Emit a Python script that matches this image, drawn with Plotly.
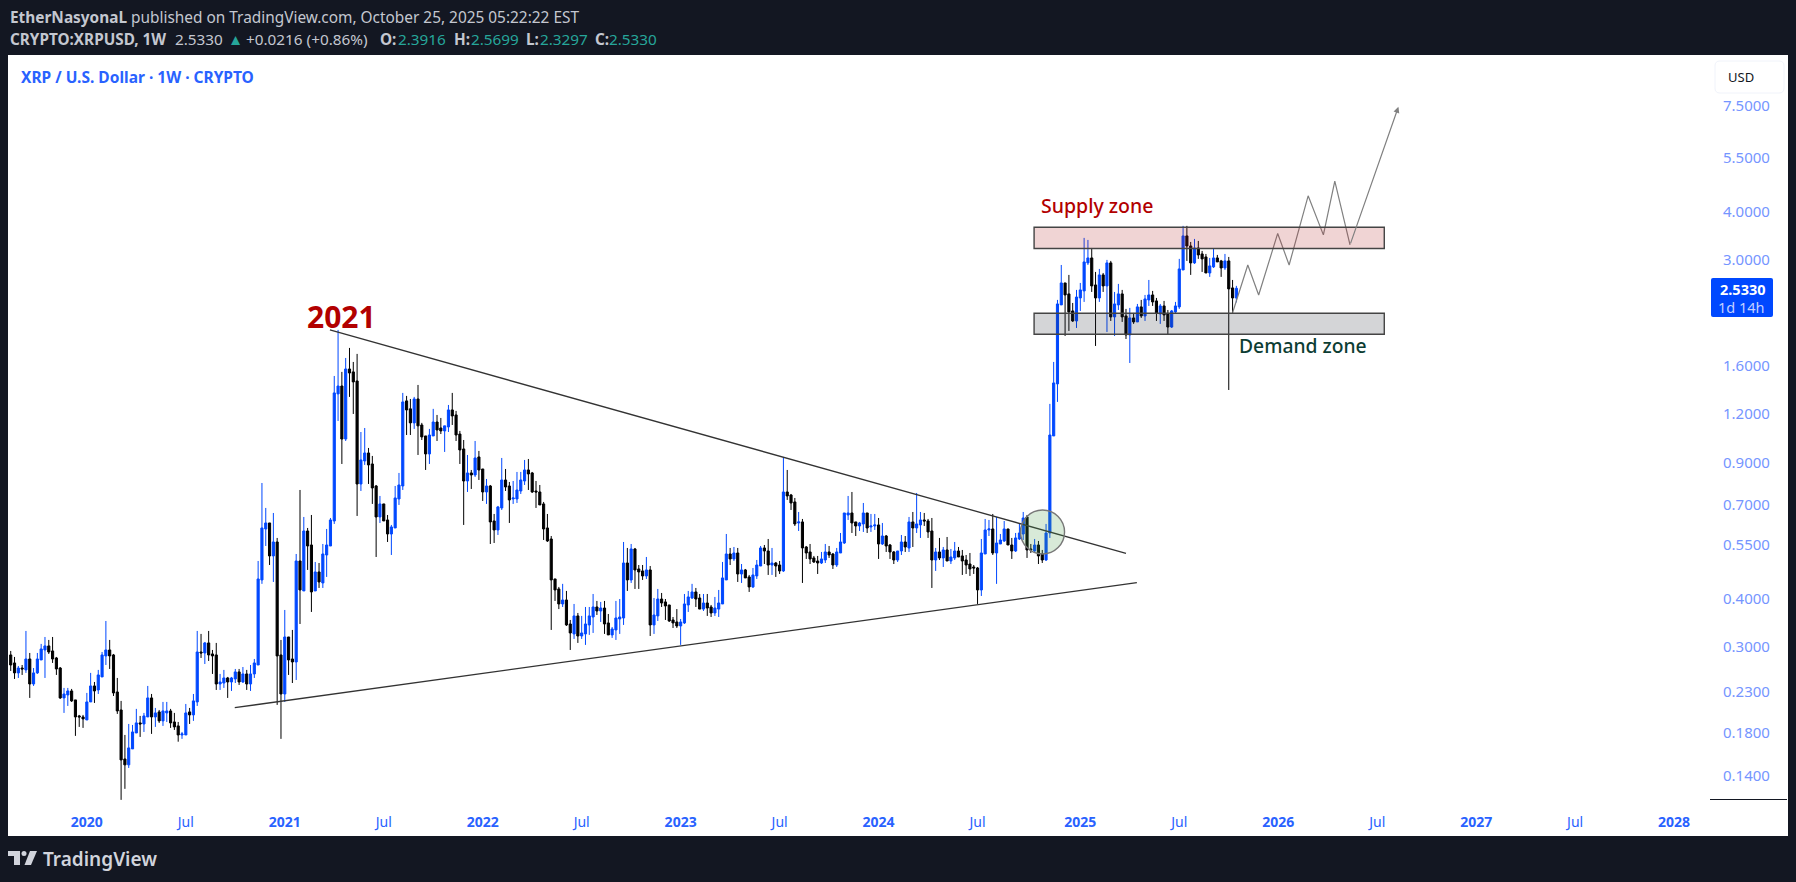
import math
import pandas as pd
import plotly.graph_objects as go

# weekly XRP/USD candles
opens = [.2864,.2731,.2574,.2650,.2620,.2796,.2410,.2574,.2780,.2950,.3022,.2933,.2813,.2650,.2218,.2258,.2312,.2192,.1993,.1981,
         .1946,.2166,.2382,.2326,.2513,.2847,.2950,.2864,.2298,.2065,.1543,.1490,.1638,.1801,.1912,.1900,.1981,.2218,.1981,.2041,
         .1935,.2029,.2053,.1923,.1878,.1780,.1780,.2041,.2005,.2166,.2915,.2898,.3076,.2881,.2864,.2410,.2424,.2498,.2439,.2483,
         .2589,.2439,.2558,.2410,.2558,.2698,.4473,.6057,.6277,.5159,.5606,.2864,.2271,.3187,.2796,.2747,.5007,.4190,.5985,.5507,
         .4190,.4691,.4394,.5189,.5474,.6352,1.352,1.417,1.034,1.568,1.541,1.460,.7914,.9075,.9517,.8914,.7821,.6505,.7029,.6390,
         .5879,.6093,.7239,.7821,1.297,1.237,1.138,1.312,1.124,1.053,.9461,1.053,1.144,1.104,1.085,1.111,1.229,1.193,1.065,.9746,
         .8057,.8451,.8350,.9293,.8653,.7547,.7821,.6352,.6021,.6863,.8105,.7821,.7239,.7239,.7592,.8057,.8602,.8451,.7592,.7547,
         .7029,.6093,.5707,.4500,.4240,.3878,.3971,.3443,.3245,.3612,.3206,.3245,.3423,.3589,.3809,.3720,.3786,.3464,.3226,.3323,
         .3547,.3568,.4948,.4473,.5378,.4775,.4719,.4581,.4747,.3423,.3612,.3994,.3925,.3855,.3526,.3484,.3403,.3464,.3855,.4018,
         .4165,.4018,.3762,.3901,.3809,.3676,.3762,.3878,.4473,.5220,.5068,.5251,.4635,.4747,.4554,.4291,.4581,.4860,.5410,.5314,
         .4889,.4948,.4889,.4719,.7547,.7413,.7112,.6277,.6315,.5442,.5283,.5098,.5007,.4948,.5037,.5283,.5220,.4889,.5251,.5573,
         .6582,.6661,.6315,.6166,.6240,.6661,.6130,.6166,.6203,.5540,.5809,.5507,.5283,.5037,.5314,.5606,.5410,.6315,.6093,.6203,
         .6390,.6352,.5985,.5037,.5283,.5098,.5346,.5007,.5098,.5314,.5159,.5037,.4918,.4832,.4803,.4215,.5220,.6021,.6057,.5251,
         .5540,.5640,.6057,.5507,.5314,.5707,.5879,.6505,.5378,.5314,.5507,.5220,.5037,.5914,1.053,1.435,2.295,2.615,2.450,2.214,
         2.086,2.392,2.494,2.946,3.034,2.584,2.392,2.743,2.569,2.946,2.137,2.295,2.450,2.149,1.920,2.124,2.074,2.268,2.149,2.364,
         2.435,2.350,2.175,2.281,2.175,2.012,2.201,2.268,2.825,3.459,3.258,2.946,3.219,3.107,3.052,2.775,2.877,3.034,2.981,2.859,
         2.981,2.539,2.3916]
highs = [.2933,.2830,.2682,.2698,.3303,.2898,.2650,.2898,.3058,.3187,.3131,.3187,.2830,.2666,.2354,.2354,.2340,.2192,.2005,.2005,
         .2285,.2574,.2439,.2620,.2915,.3505,.3131,.2881,.2498,.2179,.1780,.1900,.1889,.2078,.1993,.2029,.2382,.2271,.2090,.2065,
         .2166,.2166,.2078,.2029,.1923,.1812,.2140,.2090,.2271,.3303,.3245,.3094,.3303,.2950,.3076,.2558,.2620,.2513,.2513,.2635,
         .2635,.2666,.2620,.2698,.2796,.5007,.7961,.6863,.6277,.6661,.5742,.3131,.3742,.3187,.3323,.5220,.7637,.6505,.6093,.6582,
         .4978,.4948,.5540,.6057,.6466,1.504,1.978,1.541,1.674,1.777,1.635,1.715,1.078,1.104,.9804,.9349,.7867,.7370,.7029,.6582,
         .6203,.7821,.8451,1.360,1.336,1.312,1.328,1.426,1.138,1.053,1.098,1.237,1.193,1.172,1.118,1.266,1.360,1.222,1.085,1.028,
         .9404,.8602,1.022,.9631,.8653,.8154,.7867,.6622,.6945,.9238,.8653,.8009,.8057,.8501,.8501,.9129,.9183,.8501,.8057,.7867,
         .7112,.6622,.5809,.4500,.4291,.4370,.4190,.3526,.3878,.3676,.3612,.3809,.3809,.4115,.3948,.3925,.3948,.3654,.3382,.3948,
         .3994,.5606,.5410,.5540,.5410,.4889,.4889,.5128,.4860,.4018,.4240,.4140,.3994,.3855,.3589,.3762,.3547,.4115,.4190,.4370,
         .4265,.4115,.4115,.4115,.3855,.4043,.4215,.4978,.5879,.5410,.5442,.5410,.4918,.4775,.4608,.4803,.5037,.5474,.5507,.5707,
         .5410,.4978,.5007,.9293,.8602,.7458,.7283,.6701,.6428,.5474,.5540,.5159,.5159,.5283,.5540,.5474,.5251,.5410,.5914,.6661,
         .7370,.7547,.6315,.6315,.7069,.6661,.6622,.6622,.6466,.6277,.5844,.5540,.5314,.5314,.5844,.5809,.6505,.6701,.7502,.6701,
         .6661,.6428,.6466,.5410,.5742,.5442,.5775,.5378,.5606,.5442,.5346,.5189,.5251,.4889,.4832,.5707,.6428,.6390,.6622,.6505,
         .5879,.6352,.6057,.5742,.5914,.6240,.6701,.6582,.5540,.5707,.5640,.5346,.6240,1.274,1.635,2.364,2.910,2.615,2.743,2.322,
         2.509,2.615,3.418,3.377,3.219,2.792,2.842,2.775,2.999,2.981,2.479,2.600,2.509,2.241,2.254,2.188,2.308,2.364,2.435,2.662,
         2.494,2.392,2.308,2.350,2.227,2.227,2.336,3.017,3.671,3.671,3.337,3.397,3.357,3.163,3.107,3.034,3.201,3.089,2.999,3.107,
         3.052,2.662,2.5699]
lows = [.2604,.2483,.2498,.2543,.2574,.2218,.2382,.2558,.2780,.2498,.2881,.2731,.2543,.2205,.2029,.2115,.2166,.1770,.1867,.1856,
        .1946,.2166,.2153,.2271,.2513,.2698,.2635,.2244,.2017,.1210,.1292,.1463,.1638,.1801,.1759,.1812,.1981,.1791,.1867,.1912,
        .1878,.1923,.1856,.1834,.1710,.1739,.1780,.1900,.1935,.2115,.2813,.2714,.2763,.2558,.2326,.2326,.2354,.2218,.2312,.2424,
        .2396,.2424,.2326,.2312,.2498,.2698,.4370,.5474,.4889,.4420,.2128,.1739,.2166,.2543,.2424,.2468,.3443,.4190,.4747,.3698,
        .4190,.4265,.4265,.4554,.5474,.6240,1.151,.8914,1.022,1.328,1.200,.6544,.7592,.8862,.7914,.7029,.5128,.6277,.6352,.5606,
        .5189,.6093,.6987,.7637,1.059,1.059,1.098,.9404,1.028,.8602,.8914,1.053,1.022,1.065,.9574,1.078,1.124,1.022,.8914,.6203,
        .7547,.7683,.8252,.8105,.7154,.7029,.5540,.5573,.5844,.6781,.7592,.6277,.7029,.7069,.7458,.7867,.7637,.7502,.6863,.6987,
        .5673,.5606,.3323,.3948,.3762,.3809,.3403,.2950,.3150,.3076,.3150,.3040,.3226,.3264,.3632,.3484,.3245,.3226,.3169,.3131,
        .3245,.3423,.4190,.4394,.4240,.4240,.4473,.4500,.3206,.3245,.3505,.3809,.3526,.3484,.3362,.3362,.3040,.3443,.3698,.3994,
        .3809,.3762,.3720,.3612,.3589,.3612,.3589,.3878,.4473,.4889,.5007,.4420,.4394,.4527,.4165,.4265,.4500,.4860,.4918,.4608,
        .4608,.4554,.4635,.4691,.7197,.6781,.6166,.5985,.4394,.5068,.4918,.4948,.4635,.4918,.4948,.5098,.4775,.4832,.5251,.5540,
        .6390,.5914,.5809,.5985,.5950,.5914,.5950,.6021,.5068,.5507,.5283,.5068,.4918,.4978,.5189,.5283,.5283,.5442,.5914,.5742,
        .6166,.5742,.4265,.4719,.5037,.4832,.5007,.4918,.5037,.5128,.4608,.4635,.4581,.4635,.3878,.4067,.5220,.5809,.5189,.4370,
        .5540,.5606,.5507,.5068,.5283,.5673,.5673,.5098,.5251,.5283,.4918,.4948,.5007,.5742,1.053,1.289,2.295,1.908,1.966,2.074,
        2.001,2.214,2.336,2.910,2.479,1.798,2.336,2.479,1.954,2.086,1.908,2.227,2.074,1.874,1.625,2.050,2.074,2.124,2.086,2.281,
        2.281,2.086,2.050,2.086,1.920,2.001,2.175,2.241,2.825,2.981,2.743,2.928,3.017,2.792,2.775,2.711,2.859,2.963,2.711,2.825,
        1.384,2.188,2.3297]
closes = [.2698,.2574,.2650,.2635,.2796,.2410,.2574,.2796,.2968,.3022,.2915,.2796,.2635,.2218,.2271,.2312,.2179,.1981,.1981,.1958,
          .2166,.2382,.2312,.2543,.2864,.2950,.2847,.2285,.2053,.1534,.1490,.1648,.1812,.1912,.1900,.1993,.2218,.1981,.2029,.1935,
          .2053,.2053,.1912,.1867,.1780,.1791,.2029,.2005,.2179,.2915,.2898,.3076,.2864,.2847,.2410,.2439,.2498,.2439,.2498,.2589,
          .2439,.2558,.2410,.2558,.2731,.4499,.6093,.6277,.5159,.5606,.2847,.2271,.3187,.2780,.2747,.5007,.4215,.5985,.5474,.4165,
          .4691,.4420,.5220,.5507,.6390,1.360,1.417,1.034,1.568,1.531,1.452,.7914,.9129,.9517,.8862,.7729,.6505,.7029,.6352,.5879,
          .6130,.7283,.7867,1.289,1.229,1.138,1.312,1.118,1.047,.9461,1.059,1.144,1.091,1.085,1.118,1.229,1.186,1.059,.9688,.8057,
          .8451,.8350,.9238,.8602,.7547,.7821,.6315,.6021,.6904,.8105,.7775,.7197,.7283,.7637,.8105,.8602,.8400,.7547,.7547,.6987,
          .6057,.5640,.4473,.4215,.3878,.3971,.3423,.3264,.3612,.3206,.3264,.3443,.3612,.3809,.3720,.3786,.3443,.3226,.3342,.3568,
          .3589,.4948,.4473,.5378,.4747,.4691,.4581,.4747,.3423,.3632,.3994,.3901,.3832,.3505,.3464,.3403,.3484,.3878,.4043,.4165,
          .3994,.3762,.3901,.3786,.3676,.3786,.3901,.4527,.5220,.5068,.5251,.4635,.4747,.4527,.4291,.4608,.4889,.5410,.5314,.4889,
          .4948,.4860,.4719,.7547,.7370,.7069,.6240,.6315,.5410,.5251,.5068,.4978,.4948,.5068,.5283,.5189,.4889,.5283,.5606,.6661,
          .6661,.6277,.6166,.6277,.6661,.6093,.6166,.6203,.5540,.5809,.5474,.5283,.5037,.5314,.5606,.5442,.6315,.6093,.6240,.6390,
          .6352,.5950,.5037,.5283,.5098,.5346,.5007,.5128,.5314,.5128,.5007,.4889,.4775,.4803,.4215,.5251,.6021,.6057,.5251,.5573,
          .5673,.6057,.5507,.5314,.5742,.5914,.6466,.5346,.5346,.5507,.5159,.5037,.5914,1.059,1.443,2.308,2.615,2.435,2.201,2.086,
          2.405,2.509,2.963,3.034,2.569,2.392,2.743,2.569,2.946,2.137,2.308,2.450,2.137,1.920,2.124,2.074,2.268,2.149,2.378,2.435,
          2.336,2.188,2.281,2.162,2.012,2.214,2.281,2.842,3.459,3.258,2.946,3.219,3.089,3.017,2.775,2.894,3.034,2.963,2.859,2.981,
          2.524,2.392,2.5330]

week_dates = pd.date_range(end="2025-10-20", periods=len(closes), freq="7D")

time_ticks = ["2020-01-06", "2020-07-06", "2021-01-04", "2021-07-05", "2022-01-03", "2022-07-04", "2023-01-02",
              "2023-07-03", "2024-01-01", "2024-07-01", "2025-01-06", "2025-07-07", "2026-01-05", "2026-07-06",
              "2027-01-04", "2027-07-05", "2028-01-03"]
time_labels = ["<b>2020</b>", "Jul", "<b>2021</b>", "Jul", "<b>2022</b>", "Jul", "<b>2023</b>", "Jul", "<b>2024</b>",
               "Jul", "<b>2025</b>", "Jul", "<b>2026</b>", "Jul", "<b>2027</b>", "Jul", "<b>2028</b>"]
price_ticks = [7.5, 5.5, 4, 3, 1.6, 1.2, 0.9, 0.7, 0.55, 0.4, 0.3, 0.23, 0.18, 0.14]
price_labels = ["7.5000", "5.5000", "4.0000", "3.0000", "1.6000", "1.2000", "0.9000", "0.7000", "0.5500",
                "0.4000", "0.3000", "0.2300", "0.1800", "0.1400"]

# drawings on the chart
upper_line_dates = ["2021-03-28", "2025-03-31"]
upper_line_prices = [1.977, 0.524]
lower_line_dates = ["2020-10-04", "2025-04-20"]
lower_line_prices = [0.2093, 0.440]
path_dates = ["2025-10-13", "2025-11-10", "2025-11-30", "2026-01-04", "2026-01-25", "2026-03-01",
              "2026-03-29", "2026-04-19", "2026-05-17", "2026-08-14"]
path_prices = [2.19, 2.91, 2.434, 3.51, 2.91, 4.39, 3.48, 4.79, 3.28, 7.45]
zone_dates = ["2024-10-13", "2026-07-19"]
supply_prices = [3.21, 3.64]
demand_prices = [1.927, 2.184]
circle_dates = ["2024-09-18", "2024-12-08"]
circle_prices = [0.522, 0.678]

BG = "#131722"
UP = "#0048ff"
DOWN = "#000000"
FONT = "Noto Sans"

# pane sits at x 8..1710, y 55..800 of the page
L, R, T, B = 8, 1710, 55, 800


def px(x):
    return (x - L) / (R - L)


def py(y):
    return (B - y) / (B - T)


def rect_path(x0, y0, x1, y1, r=0):
    a, b, c, d = px(x0), py(y0), px(x1), py(y1)
    if r == 0:
        return f"M{a},{b} L{c},{b} L{c},{d} L{a},{d} Z"
    rx, ry = r / (R - L), r / (B - T)
    return (f"M{a+rx},{b} L{c-rx},{b} Q{c},{b} {c},{b-ry} L{c},{d+ry} Q{c},{d} {c-rx},{d} "
            f"L{a+rx},{d} Q{a},{d} {a},{d+ry} L{a},{b-ry} Q{a},{b} {a+rx},{b} Z")


def poly_path(points):
    return "M" + " L".join(f"{px(x)},{py(y)}" for x, y in points) + " Z"


def label(text, x, y, size, color, anchor="left", weight=None):
    fig.add_annotation(text=text, x=px(x), y=py(y), xref="paper", yref="paper", showarrow=False,
                       xanchor=anchor, yanchor="middle", align=anchor,
                       font=dict(family=FONT, size=size, color=color, weight=weight))


fig = go.Figure()

fig.add_trace(go.Candlestick(
    x=week_dates, open=opens, high=highs, low=lows, close=closes,
    increasing=dict(line=dict(color=UP, width=1), fillcolor=UP),
    decreasing=dict(line=dict(color=DOWN, width=1), fillcolor=DOWN),
    whiskerwidth=0,
))
fig.add_trace(go.Scatter(x=upper_line_dates, y=upper_line_prices, mode="lines", line=dict(color="#333333", width=1.3)))
fig.add_trace(go.Scatter(x=lower_line_dates, y=lower_line_prices, mode="lines", line=dict(color="#333333", width=1.3)))
fig.add_trace(go.Scatter(x=path_dates[:-1], y=path_prices[:-1], mode="lines", line=dict(color="#808080", width=1.2)))

# white panel behind pane and axes
fig.add_shape(type="path", xref="paper", yref="paper", layer="below", line_width=0, fillcolor="white",
              path=rect_path(8, 55, 1788, 836))

# zones and circle
fig.add_shape(type="rect", x0=zone_dates[0], x1=zone_dates[1], y0=supply_prices[0], y1=supply_prices[1],
              fillcolor="rgba(178,40,40,0.2)", line=dict(color="#444444", width=1.4))
fig.add_shape(type="rect", x0=zone_dates[0], x1=zone_dates[1], y0=demand_prices[0], y1=demand_prices[1],
              fillcolor="rgba(42,46,57,0.2)", line=dict(color="#444444", width=1.4))
fig.add_shape(type="circle", x0=circle_dates[0], x1=circle_dates[1], y0=circle_prices[0], y1=circle_prices[1],
              fillcolor="rgba(76,160,76,0.22)", line=dict(color="#777777", width=1.4))

# arrow at the end of the projected path
fig.add_annotation(x=path_dates[-1], y=math.log10(path_prices[-1]), ax=path_dates[-2], ay=math.log10(path_prices[-2]),
                   xref="x", yref="y", axref="x", ayref="y", text="", showarrow=True,
                   arrowhead=2, arrowsize=1, arrowwidth=1.2, arrowcolor="#808080")

# header
HEAD = "#c4c7d0"
TEAL = "#26a69a"
label("<b>EtherNasyonaL</b> published on TradingView.com, October 25, 2025 05:22:22 EST", 8, 17, 15.4, HEAD)
ohlc_parts = [("<b>CRYPTO:XRPUSD, 1W</b>", 8, HEAD), ("2.5330", 173, HEAD), ("▲", 226, TEAL),
              ("+0.0216 (+0.86%)", 244, HEAD), ("<b>O:</b>", 378, HEAD), ("2.3916", 396, TEAL),
              ("<b>H:</b>", 452, HEAD), ("2.5699", 469, TEAL), ("<b>L:</b>", 524, HEAD), ("2.3297", 538, TEAL),
              ("<b>C:</b>", 593, HEAD), ("2.5330", 607, TEAL)]
for text, x, color in ohlc_parts:
    label(text, x, 39, 15.3, color)
label("<b>XRP / U.S. Dollar · 1W · CRYPTO</b>", 19, 77, 15.5, "#2962ff")

# chart notes
label("<b>2021</b>", 305, 316, 30, "#b20000")
label("Supply zone", 1039, 205, 19.5, "#b20000", weight=500)
label("Demand zone", 1237, 345, 19.3, "#0c3d33", weight=500)

# USD box and price tag
fig.add_shape(type="path", xref="paper", yref="paper", path=rect_path(1715, 61, 1784, 93, 5),
              fillcolor="white", line=dict(color="#f0f3fa", width=1))
label("USD", 1726, 77, 13, "#131722")
fig.add_shape(type="path", xref="paper", yref="paper", path=rect_path(1711, 278, 1773, 317, 2),
              fillcolor=UP, line_width=0)
label("<b>2.5330</b>", 1768, 289, 14.5, "#ffffff", anchor="right")
label("1d 14h", 1767, 307, 14.5, "#c3d0ff", anchor="right")
fig.add_shape(type="line", xref="paper", yref="paper", x0=px(1710), x1=px(1787), y0=py(799.5), y1=py(799.5),
              line=dict(color="#131722", width=1))

# TradingView logo
logo = "#d1d4dc"
fig.add_shape(type="path", xref="paper", yref="paper", line_width=0, fillcolor=logo,
              path=poly_path([(8, 851), (20, 851), (20, 865), (14, 865), (14, 856), (8, 856)]))
fig.add_shape(type="circle", xref="paper", yref="paper", line_width=0, fillcolor=logo,
              x0=px(21.5), x1=px(26.5), y0=py(851), y1=py(856))
fig.add_shape(type="path", xref="paper", yref="paper", line_width=0, fillcolor=logo,
              path=poly_path([(30, 851), (37, 851), (31, 865), (24.5, 865)]))
label("TradingView", 41, 859, 19, logo, weight=600)

fig.update_layout(
    width=1796, height=882,
    margin=dict(l=L, r=1796 - R, t=T, b=882 - B, pad=0),
    paper_bgcolor=BG, plot_bgcolor="rgba(0,0,0,0)",
    showlegend=False, boxgap=0.2,
    font=dict(family=FONT, size=14, color="#2962ff"),
    xaxis=dict(type="date", range=["2019-08-14", "2028-03-09"], rangeslider=dict(visible=False),
               showgrid=False, zeroline=False, showline=False, tickmode="array",
               tickvals=time_ticks, ticktext=time_labels, ticks="outside", ticklen=9, tickcolor="white",
               tickfont=dict(size=14, color="#2962ff")),
    yaxis=dict(type="log", side="right", range=[math.log10(0.1209), math.log10(10.14)],
               showgrid=False, zeroline=False, showline=False, tickmode="array",
               tickvals=price_ticks, ticktext=price_labels, ticks="outside", ticklen=9, tickcolor="white",
               tickfont=dict(size=15, color="#7595ff")),
)

fig.write_html("out.html", config=dict(displayModeBar=False),
               post_script="document.body.style.margin='0';document.body.style.overflow='hidden';")
